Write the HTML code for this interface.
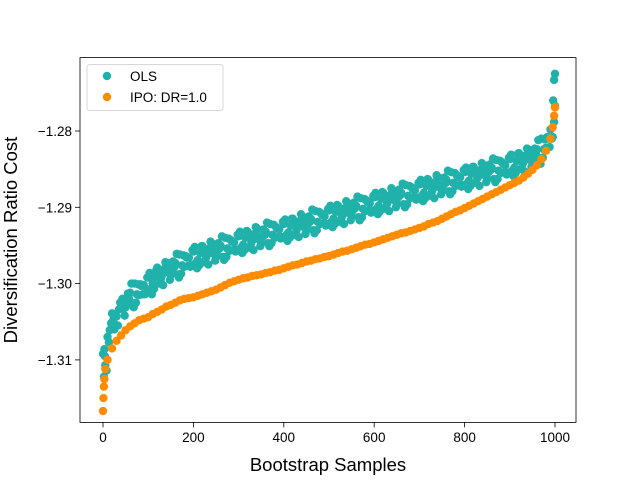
<!DOCTYPE html>
<html><head><meta charset="utf-8"><style>
body{margin:0;background:#fff;}
svg{display:block;font-family:"Liberation Sans","DejaVu Sans",sans-serif;}
</style></head><body>
<svg id="chart" width="640" height="480">
<rect x="0" y="0" width="640" height="480" fill="#fff"/>
<g id="marks"></g>
<rect x="80" y="57.6" width="496" height="364.8" fill="none" stroke="#000" stroke-width="0.8"/>
<g id="axes"></g>
<text x="328" y="471" font-size="18.5" text-anchor="middle">Bootstrap Samples</text>
<text x="0" y="0" font-size="18.5" text-anchor="middle" transform="translate(17,240) rotate(-90)">Diversification Ratio Cost</text>
<g>
<rect x="87" y="64.5" width="136" height="46" rx="3" fill="#fff" fill-opacity="0.8" stroke="#ccc" stroke-width="0.8"/>
<circle cx="107" cy="76" r="4.2" fill="#20b2aa"/>
<text x="130" y="81" font-size="13.5">OLS</text>
<circle cx="107" cy="97" r="4.2" fill="#ff8c00"/>
<text x="130" y="102" font-size="13.5">IPO: DR=1.0</text>
</g>
</svg>
<script>
const xTicks=[0,200,400,600,800,1000];
const yTicks=[-1.31,-1.30,-1.29,-1.28];
const yTickLabels=["\u22121.31","\u22121.30","\u22121.29","\u22121.28"];
const ipoX=[0,1,2,3,5,10,20,30,40,50,60,70,80,90,100,110,120,130,140,150,160,170,180,190,200,210,220,230,240,250,260,270,280,290,300,310,320,330,340,350,360,370,380,390,400,410,420,430,440,450,460,470,480,490,500,510,520,530,540,550,560,570,580,590,600,610,620,630,640,650,660,670,680,690,700,710,720,730,740,750,760,770,780,790,800,810,820,830,840,850,860,870,880,890,900,910,920,930,940,950,960,970,980,990,995,998,1000];
const ipoY=[-1.3167,-1.3150,-1.3135,-1.3125,-1.3112,-1.3100,-1.3085,-1.3075,-1.3068,-1.3061,-1.3056,-1.3052,-1.3048,-1.3046,-1.3044,-1.3040,-1.3037,-1.3034,-1.3030,-1.3028,-1.3025,-1.3022,-1.3020,-1.3019,-1.3018,-1.3016,-1.3014,-1.3012,-1.3010,-1.3008,-1.3005,-1.3002,-1.2999,-1.2997,-1.2995,-1.2993,-1.2992,-1.2990,-1.2989,-1.2988,-1.2986,-1.2985,-1.2983,-1.2982,-1.2980,-1.2978,-1.2976,-1.2975,-1.2973,-1.2971,-1.2970,-1.2968,-1.2967,-1.2965,-1.2964,-1.2962,-1.2960,-1.2958,-1.2957,-1.2955,-1.2953,-1.2951,-1.2949,-1.2948,-1.2946,-1.2944,-1.2942,-1.2940,-1.2938,-1.2936,-1.2934,-1.2933,-1.2931,-1.2929,-1.2927,-1.2925,-1.2922,-1.2920,-1.2918,-1.2915,-1.2912,-1.2909,-1.2906,-1.2904,-1.2901,-1.2898,-1.2895,-1.2892,-1.2889,-1.2886,-1.2883,-1.2880,-1.2877,-1.2874,-1.2871,-1.2868,-1.2865,-1.2861,-1.2856,-1.2851,-1.2845,-1.2837,-1.2826,-1.2810,-1.2795,-1.2780,-1.2769];
const olsA=[-1.3092,-1.3070,-1.3039,-1.3043,-1.3024,-1.3031,-1.3012,-1.3000,-1.3015,-1.3002,-1.2992,-1.3000,-1.2979,-1.2990,-1.2977,-1.2989,-1.2973,-1.2962,-1.2978,-1.2966,-1.2958,-1.2969,-1.2951,-1.2963,-1.2952,-1.2965,-1.2950,-1.2940,-1.2957,-1.2946,-1.2938,-1.2949,-1.2932,-1.2944,-1.2933,-1.2947,-1.2932,-1.2922,-1.2940,-1.2929,-1.2922,-1.2933,-1.2915,-1.2927,-1.2917,-1.2930,-1.2915,-1.2905,-1.2922,-1.2912,-1.2904,-1.2915,-1.2898,-1.2910,-1.2899,-1.2912,-1.2898,-1.2888,-1.2905,-1.2895,-1.2887,-1.2898,-1.2881,-1.2893,-1.2882,-1.2895,-1.2881,-1.2871,-1.2888,-1.2878,-1.2870,-1.2881,-1.2864,-1.2876,-1.2865,-1.2879,-1.2864,-1.2854,-1.2872,-1.2861,-1.2854,-1.2865,-1.2847,-1.2860,-1.2849,-1.2862,-1.2848,-1.2838,-1.2855,-1.2845,-1.2837,-1.2848,-1.2829,-1.2841,-1.2829,-1.2841,-1.2824,-1.2810,-1.2822,-1.2798,-1.2767];
const olsB=[-1.3107,-1.3061,-1.3060,-1.3034,-1.3033,-1.3013,-1.3027,-1.3014,-1.3003,-1.3012,-1.3007,-1.2991,-1.3000,-1.2981,-1.2986,-1.2971,-1.2988,-1.2976,-1.2966,-1.2976,-1.2973,-1.2960,-1.2972,-1.2954,-1.2961,-1.2947,-1.2965,-1.2954,-1.2945,-1.2956,-1.2953,-1.2940,-1.2953,-1.2935,-1.2942,-1.2929,-1.2947,-1.2936,-1.2928,-1.2939,-1.2937,-1.2924,-1.2936,-1.2918,-1.2926,-1.2912,-1.2930,-1.2919,-1.2910,-1.2922,-1.2919,-1.2906,-1.2919,-1.2901,-1.2908,-1.2894,-1.2913,-1.2902,-1.2893,-1.2905,-1.2902,-1.2889,-1.2902,-1.2884,-1.2891,-1.2877,-1.2896,-1.2885,-1.2876,-1.2888,-1.2885,-1.2872,-1.2885,-1.2867,-1.2874,-1.2861,-1.2879,-1.2868,-1.2860,-1.2871,-1.2869,-1.2856,-1.2868,-1.2851,-1.2858,-1.2844,-1.2863,-1.2852,-1.2843,-1.2855,-1.2852,-1.2839,-1.2850,-1.2832,-1.2838,-1.2823,-1.2839,-1.2824,-1.2810,-1.2808];
const olsC=[-1.3086,-1.3077,-1.3047,-1.3055,-1.3020,-1.3023,-1.3000,-1.3025,-1.3001,-1.3014,-1.2986,-1.3007,-1.2987,-1.3002,-1.2973,-1.2981,-1.2961,-1.2987,-1.2964,-1.2978,-1.2952,-1.2976,-1.2959,-1.2975,-1.2948,-1.2957,-1.2938,-1.2965,-1.2943,-1.2958,-1.2932,-1.2956,-1.2940,-1.2956,-1.2929,-1.2939,-1.2920,-1.2947,-1.2926,-1.2941,-1.2916,-1.2940,-1.2923,-1.2939,-1.2913,-1.2922,-1.2903,-1.2930,-1.2908,-1.2924,-1.2898,-1.2922,-1.2906,-1.2922,-1.2895,-1.2904,-1.2886,-1.2913,-1.2891,-1.2907,-1.2881,-1.2905,-1.2889,-1.2905,-1.2878,-1.2887,-1.2869,-1.2896,-1.2874,-1.2890,-1.2864,-1.2888,-1.2872,-1.2888,-1.2861,-1.2871,-1.2852,-1.2879,-1.2858,-1.2873,-1.2848,-1.2872,-1.2855,-1.2872,-1.2845,-1.2854,-1.2836,-1.2863,-1.2841,-1.2857,-1.2831,-1.2855,-1.2837,-1.2853,-1.2825,-1.2833,-1.2812,-1.2835,-1.2808,-1.2810];
const olsD=[-1.3114,-1.3052,-1.3054,-1.3025,-1.3042,-1.3020,-1.3031,-1.3001,-1.3014,-1.2992,-1.3014,-1.2982,-1.2994,-1.2972,-1.2995,-1.2978,-1.2992,-1.2963,-1.2977,-1.2956,-1.2980,-1.2951,-1.2966,-1.2945,-1.2970,-1.2954,-1.2969,-1.2941,-1.2956,-1.2936,-1.2960,-1.2931,-1.2947,-1.2926,-1.2951,-1.2936,-1.2951,-1.2923,-1.2939,-1.2919,-1.2944,-1.2915,-1.2930,-1.2909,-1.2935,-1.2919,-1.2934,-1.2906,-1.2921,-1.2902,-1.2926,-1.2897,-1.2913,-1.2892,-1.2917,-1.2901,-1.2917,-1.2889,-1.2904,-1.2885,-1.2909,-1.2880,-1.2896,-1.2875,-1.2900,-1.2884,-1.2900,-1.2872,-1.2887,-1.2868,-1.2892,-1.2863,-1.2879,-1.2858,-1.2883,-1.2868,-1.2883,-1.2855,-1.2871,-1.2851,-1.2876,-1.2847,-1.2862,-1.2842,-1.2867,-1.2851,-1.2867,-1.2839,-1.2854,-1.2835,-1.2859,-1.2830,-1.2844,-1.2823,-1.2847,-1.2830,-1.2843,-1.2811,-1.2821,-1.2788];
const olsExtraX=[2,4,996,998,1000];
const olsExtraY=[-1.3122,-1.3095,-1.2760,-1.2733,-1.2725];

const NS="http://www.w3.org/2000/svg";
function xs(v){return 103+(v-0)*0.452;}
function ys(v){return 131+(-1.28-v)*7630;}
const marks=document.getElementById('marks');
const axes=document.getElementById('axes');
function dot(x,y,c,name){
  const el=document.createElementNS(NS,'circle');
  el.setAttribute('cx',xs(x));el.setAttribute('cy',ys(y));el.setAttribute('r',4.2);el.setAttribute('fill',c);
  
  
  marks.appendChild(el);
}
olsA.forEach((v,k)=>dot(k*10,v,'#20b2aa','ols-point'));
olsC.forEach((v,k)=>dot(k*10+3,v,'#20b2aa','ols-point'));
olsB.forEach((v,k)=>dot(k*10+5,v,'#20b2aa','ols-point'));
olsD.forEach((v,k)=>dot(k*10+8,v,'#20b2aa','ols-point'));
olsExtraX.forEach((x,k)=>dot(x,olsExtraY[k],'#20b2aa','ols-point'));
ipoX.forEach((x,k)=>dot(x,ipoY[k],'#ff8c00','ipo-point'));
function line(x1,y1,x2,y2){
  const l=document.createElementNS(NS,'line');
  l.setAttribute('x1',x1);l.setAttribute('y1',y1);l.setAttribute('x2',x2);l.setAttribute('y2',y2);
  l.setAttribute('stroke','#000');l.setAttribute('stroke-width','0.8');
  
  
  axes.appendChild(l);
}
function txt(x,y,s,anchor,name){
  const t=document.createElementNS(NS,'text');
  t.setAttribute('x',x);t.setAttribute('y',y);t.setAttribute('font-size','13.5');t.setAttribute('text-anchor',anchor);
  t.textContent=s;
  
  
  axes.appendChild(t);
}
xTicks.forEach(v=>{line(xs(v),422.4,xs(v),427.4);txt(xs(v),442,String(v),'middle','x-tick-label');});
yTicks.forEach((v,k)=>{line(75,ys(v),80,ys(v));txt(72,ys(v)+5,yTickLabels[k],'end','y-tick-label');});
</script>
</body></html>
